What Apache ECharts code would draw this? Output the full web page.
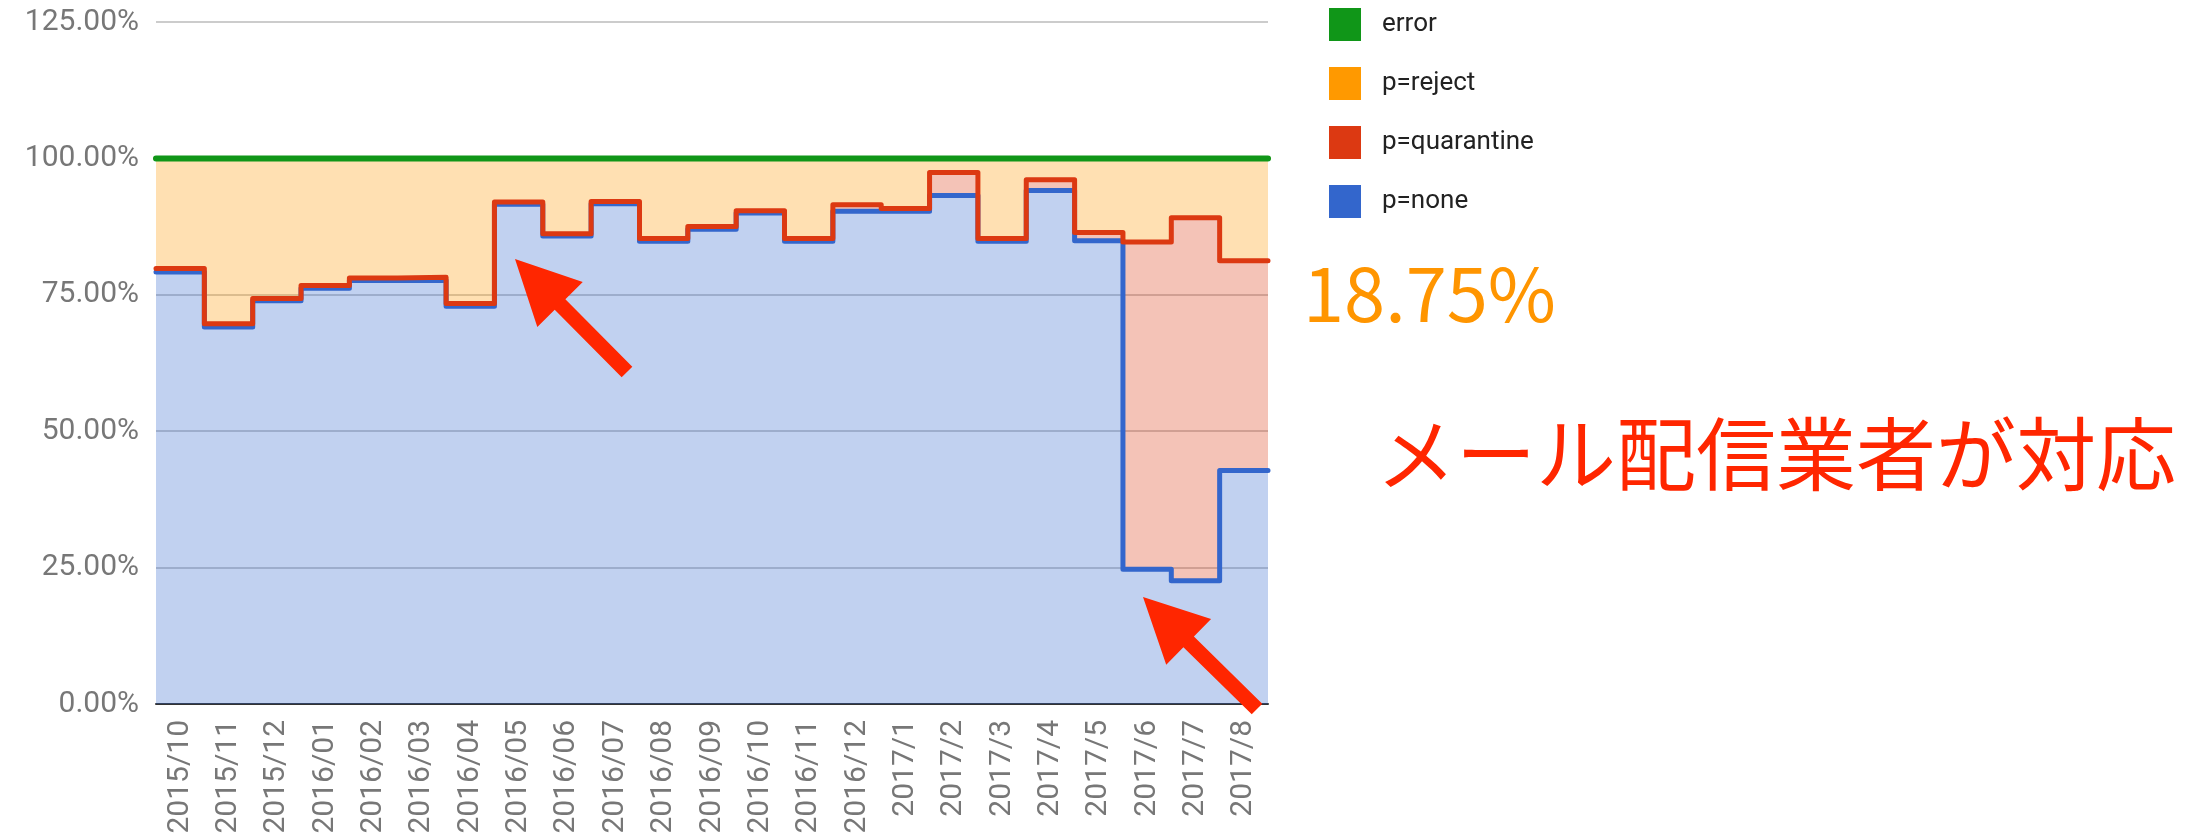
<!DOCTYPE html>
<html lang="ja">
<head>
    <meta charset="UTF-8">
    <title>DMARC policy</title>
    <style>
        html, body { margin: 0; padding: 0; background: #ffffff; }
        #areaChart { width: 2186px; height: 840px; }
    </style>
</head>
<body>
<div id="areaChart"></div>

<script src="https://cdn.jsdelivr.net/npm/echarts@6.0.0/dist/echarts.min.js"></script>
<script>
    // 月ごとの割合 (%)
    var months = ['2015/10', '2015/11', '2015/12', '2016/01', '2016/02', '2016/03', '2016/04', '2016/05',
        '2016/06', '2016/07', '2016/08', '2016/09', '2016/10', '2016/11', '2016/12', '2017/1', '2017/2',
        '2017/3', '2017/4', '2017/5', '2017/6', '2017/7', '2017/8'];
    var pNone = [79.2, 69.1, 73.9, 76.2, 77.6, 77.6, 72.9, 91.6, 85.8, 91.7, 84.8, 87.0,
        90.0, 84.8, 90.3, 90.3, 93.2, 84.8, 94.1, 84.9, 24.7, 22.6, 42.8];
    var pQuarantine = [0.6, 0.6, 0.4, 0.5, 0.5, 0.6, 0.5, 0.4, 0.4, 0.4, 0.5, 0.5,
        0.4, 0.5, 1.2, 0.5, 4.2, 0.5, 2.0, 1.5, 60.0, 66.5, 38.45];
    var pReject = [20.2, 30.3, 25.7, 23.3, 21.9, 21.8, 26.6, 8.0, 13.8, 7.9, 14.7, 12.5,
        9.6, 14.7, 8.5, 9.2, 2.6, 14.7, 3.9, 13.6, 15.3, 10.9, 18.75];
    var pError = [0, 0, 0, 0, 0, 0, 0, 0, 0, 0, 0, 0, 0, 0, 0, 0, 0, 0, 0, 0, 0, 0, 0];
    var yTicks = [0, 25, 50, 75, 100, 125];

    // 各月の帯いっぱいに段を描くため、末尾に同じ値をもう一点足す
    function steps(values) {
        return values.concat([values[values.length - 1]]);
    }

    function layer(name, values, color, width) {
        return {
            name: name,
            type: 'line',
            xAxisIndex: 1,
            stack: 'total',
            step: 'end',
            symbol: 'none',
            data: steps(values),
            color: color,
            lineStyle: { color: color, width: width, join: 'round', cap: 'round' },
            areaStyle: { color: color, opacity: 0.3 },
            emphasis: { disabled: true }
        };
    }

    function arrow(tip, tail) {
        var dx = tail[0] - tip[0], dy = tail[1] - tip[1];
        var len = Math.sqrt(dx * dx + dy * dy);
        var ux = dx / len, uy = dy / len, px = -uy, py = ux;
        var headLen = 64, headW = 64, shaft = 15;
        var bx = tip[0] + ux * headLen, by = tip[1] + uy * headLen;
        return {
            type: 'polygon',
            z: 100,
            shape: {
                points: [
                    tip,
                    [bx + px * headW / 2, by + py * headW / 2],
                    [bx + px * shaft / 2, by + py * shaft / 2],
                    [tail[0] + px * shaft / 2, tail[1] + py * shaft / 2],
                    [tail[0] - px * shaft / 2, tail[1] - py * shaft / 2],
                    [bx - px * shaft / 2, by - py * shaft / 2],
                    [bx - px * headW / 2, by - py * headW / 2]
                ]
            },
            style: { fill: '#ff2600' }
        };
    }

    var myChart = echarts.init(document.getElementById('areaChart'));
    option = {
        animation: false,
        grid: { left: 156, right: 918, top: 22, bottom: 136, outerBoundsMode: 'none' },
        legend: {
            orient: 'vertical',
            left: 1324,
            top: 3,
            itemWidth: 32,
            itemHeight: 33,
            itemGap: 26,
            icon: 'rect',
            selectedMode: false,
            data: ['error', 'p=reject', 'p=quarantine', 'p=none'],
            textStyle: { fontFamily: 'Roboto', fontSize: 26, color: '#222', padding: [0, 0, 0, 16] }
        },
        xAxis: [{
            type: 'category',
            data: months,
            boundaryGap: true,
            axisLine: { show: true, lineStyle: { color: '#333', width: 2 } },
            axisTick: { show: false },
            axisLabel: {
                interval: 0,
                rotate: 90,
                margin: 16,
                fontFamily: 'Roboto',
                fontSize: 30,
                color: '#777'
            },
            splitLine: { show: false }
        }, {
            // 帯の境界に点を置くための隠し軸
            type: 'category',
            data: months.concat(['']),
            boundaryGap: false,
            show: false
        }],
        yAxis: {
            type: 'value',
            min: yTicks[0],
            max: yTicks[yTicks.length - 1],
            interval: 25,
            axisLine: { show: false },
            axisTick: { show: false },
            axisLabel: {
                margin: 17,
                fontFamily: 'Roboto',
                fontSize: 30,
                color: '#777',
                formatter: function (v) { return v.toFixed(2) + '%'; }
            },
            splitLine: { lineStyle: { color: '#cccccc', width: 2 } }
        },
        series: [
            layer('p=none', pNone, '#3366cc', 5),
            layer('p=quarantine', pQuarantine, '#dc3912', 5),
            layer('p=reject', pReject, '#ff9900', 5),
            layer('error', pError, '#109618', 6)
        ],
        graphic: [
            {
                type: 'text',
                left: 1303,
                top: 257,
                z: 100,
                style: {
                    text: pReject[pReject.length - 1].toFixed(2) + '%',
                    fontFamily: 'Noto Sans CJK JP',
                    fontSize: 74,
                    fill: '#ff9500',
                    verticalAlign: 'middle'
                }
            },
            {
                type: 'text',
                left: 1376,
                top: 414,
                z: 100,
                style: {
                    text: 'メール配信業者が対応',
                    fontFamily: 'Noto Sans CJK JP',
                    fontSize: 80,
                    fill: '#ff2600',
                    verticalAlign: 'middle'
                }
            },
            arrow([515, 259], [627, 372]),
            arrow([1143, 597], [1257, 709])
        ]
    };
    myChart.setOption(option);
</script>
</body>
</html>
